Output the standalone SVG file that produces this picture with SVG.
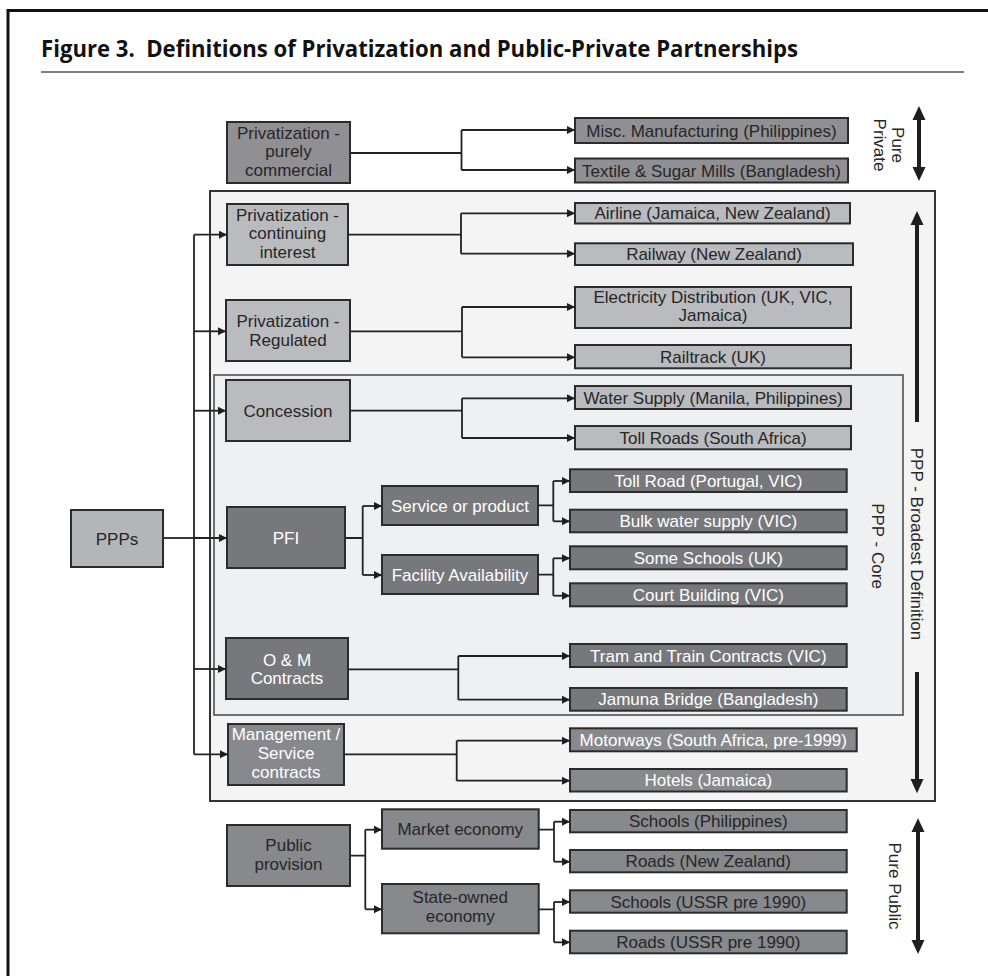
<svg xmlns="http://www.w3.org/2000/svg" width="988" height="976" viewBox="0 0 988 976">
<defs>
<style>
.t{font-family:"Liberation Sans",Arial,sans-serif;font-size:17px;text-anchor:middle;fill:#262626}
.w{fill:#ffffff}
.b{stroke:#2b2b2b;stroke-width:2}
.lt{fill:#babbbf}
.md{fill:#909094}
.dk{fill:#77787c}
.mg{fill:#88898d}
.c{fill:none;stroke:#222;stroke-width:1.8}
.ca{fill:none;stroke:#222;stroke-width:1.8;marker-end:url(#ah)}
.big{fill:#1e1e1e}
</style>
<marker id="ah" markerUnits="userSpaceOnUse" markerWidth="9" markerHeight="9" refX="8" refY="4" orient="auto">
<path d="M0,0 L8,4 L0,8 z" fill="#1e1e1e"/>
</marker>
</defs>
<rect width="988" height="976" fill="#ffffff"/>
<rect x="8" y="10.5" width="1000" height="1000" fill="none" stroke="#111" stroke-width="3"/>
<text x="41" y="57" xml:space="preserve" font-family="'Open Sans','Liberation Sans',sans-serif" font-weight="700" font-size="23.5" fill="#111" textLength="757" lengthAdjust="spacingAndGlyphs">Figure 3.  Definitions of Privatization and Public-Private Partnerships</text>
<line x1="41" y1="72" x2="964" y2="72" stroke="#555" stroke-width="1.5"/>

<g id="region-broadest">
<rect x="210" y="191" width="725" height="610" fill="#f4f4f4" stroke="#333" stroke-width="2"/>
<text class="t" transform="translate(911,544) rotate(90)">PPP - Broadest Definition</text>
</g>
<g id="region-core">
<rect x="214" y="375" width="689" height="340" fill="#eff0f2" stroke="#444" stroke-width="1.5"/>
<text class="t" transform="translate(872,546) rotate(90)">PPP - Core</text>
</g>

<g id="connectors">
<path class="c" d="M350,153 H461.5 M461.5,130 V170"/>
<path class="ca" d="M461.5,130 H575"/>
<path class="ca" d="M461.5,170 H575"/>

<path class="c" d="M163,538 H194" stroke-width="2.6"/>
<path class="c" d="M194,234.7 V754.3"/>
<path class="ca" d="M194,234.7 H227"/>
<path class="ca" d="M194,331.3 H226"/>
<path class="ca" d="M194,410.7 H226"/>
<path class="ca" d="M194,538 H227"/>
<path class="ca" d="M194,669 H226"/>
<path class="ca" d="M194,754.3 H228"/>

<path class="c" d="M348,234.7 H461 M461,213.3 V253.7"/>
<path class="ca" d="M461,213.3 H575"/>
<path class="ca" d="M461,253.7 H575"/>

<path class="c" d="M350,331.3 H462 M462,307 V357.3"/>
<path class="ca" d="M462,307 H575"/>
<path class="ca" d="M462,357.3 H575"/>

<path class="c" d="M350,410.7 H462 M462,398.3 V438"/>
<path class="ca" d="M462,398.3 H575"/>
<path class="ca" d="M462,438 H575"/>

<path class="c" d="M345,538 H362.7 M362.7,506 V575"/>
<path class="ca" d="M362.7,506 H382"/>
<path class="ca" d="M362.7,575 H382"/>

<path class="c" d="M538,505.3 H553.3 M553.3,481 V521.3"/>
<path class="ca" d="M553.3,481 H570"/>
<path class="ca" d="M553.3,521.3 H570"/>
<path class="c" d="M538,574.7 H553.3 M553.3,558.3 V595.7"/>
<path class="ca" d="M553.3,558.3 H570"/>
<path class="ca" d="M553.3,595.7 H570"/>

<path class="c" d="M348,669.3 H458.3 M458.3,656 V699.7"/>
<path class="ca" d="M458.3,656 H570"/>
<path class="ca" d="M458.3,699.7 H570"/>

<path class="c" d="M344,754.3 H456.7 M456.7,740.7 V780.7"/>
<path class="ca" d="M456.7,740.7 H570"/>
<path class="ca" d="M456.7,780.7 H570"/>

<path class="c" d="M350,855.7 H365.3 M365.3,829.7 V909.3"/>
<path class="ca" d="M365.3,829.7 H382"/>
<path class="ca" d="M365.3,909.3 H382"/>

<path class="c" d="M538.7,829.7 H554 M554,821.7 V861.7"/>
<path class="ca" d="M554,821.7 H570"/>
<path class="ca" d="M554,861.7 H570"/>
<path class="c" d="M538.7,909.3 H554 M554,902 V942.3"/>
<path class="ca" d="M554,902 H570"/>
<path class="ca" d="M554,942.3 H570"/>
</g>

<g id="scale-pure-private">
<polygon class="big" points="919,106 912.5,120 925.5,120"/>
<polygon class="big" points="919,181 912.5,167 925.5,167"/>
<rect class="big" x="917" y="118" width="4" height="51"/>
<text class="t" transform="translate(892,145) rotate(90)">Pure</text>
<text class="t" transform="translate(874,145) rotate(90)">Private</text>
</g>
<g id="scale-broadest">
<polygon class="big" points="917,211 910.5,225 923.5,225"/>
<rect class="big" x="915" y="223" width="4" height="199"/>
<rect class="big" x="915" y="672" width="4" height="109"/>
<polygon class="big" points="917,793.3 910.5,779 923.5,779"/>
</g>
<g id="scale-pure-public">
<polygon class="big" points="918,818.3 911.5,832 924.5,832"/>
<polygon class="big" points="918,954 911.5,940 924.5,940"/>
<rect class="big" x="916" y="830" width="4" height="112"/>
<text class="t" transform="translate(889,886) rotate(90)">Pure Public</text>
</g>

<g id="n-purely">
<rect class="b md" x="227" y="122" width="123" height="61"/>
<text class="t" x="288.5" y="139">Privatization -</text>
<text class="t" x="288.5" y="157">purely</text>
<text class="t" x="288.5" y="175.5">commercial</text>
</g>
<g id="n-misc"><rect class="b md" x="575" y="118" width="273" height="25"/><text class="t" x="711.5" y="136.5">Misc. Manufacturing (Philippines)</text></g>
<g id="n-textile"><rect class="b md" x="575" y="158.5" width="273" height="24"/><text class="t" x="711.5" y="176.5">Textile &amp; Sugar Mills (Bangladesh)</text></g>

<g id="n-continuing">
<rect class="b lt" x="227" y="204" width="121" height="61"/>
<text class="t" x="287.5" y="220.7">Privatization -</text>
<text class="t" x="287.5" y="239.3">continuing</text>
<text class="t" x="287.5" y="257.7">interest</text>
</g>
<g id="n-airline"><rect class="b lt" x="575" y="203" width="275" height="20.5"/><text class="t" x="712.5" y="219">Airline (Jamaica, New Zealand)</text></g>
<g id="n-railway"><rect class="b lt" x="575" y="243.3" width="278" height="21.7"/><text class="t" x="714" y="260">Railway (New Zealand)</text></g>

<g id="n-regulated">
<rect class="b lt" x="226" y="300" width="124" height="61"/>
<text class="t" x="288" y="326.7">Privatization -</text>
<text class="t" x="288" y="345.5">Regulated</text>
</g>
<g id="n-electricity"><rect class="b lt" x="575" y="287" width="276" height="41"/><text class="t" x="713" y="303.3">Electricity Distribution (UK, VIC,</text><text class="t" x="713" y="321">Jamaica)</text></g>
<g id="n-railtrack"><rect class="b lt" x="575" y="345" width="276" height="23.3"/><text class="t" x="713" y="362.5">Railtrack (UK)</text></g>

<g id="n-concession">
<rect class="b lt" x="226" y="380" width="124" height="61"/>
<text class="t" x="288" y="416.5">Concession</text>
</g>
<g id="n-water"><rect class="b lt" x="575" y="386" width="276" height="23"/><text class="t" x="713" y="403.5">Water Supply (Manila, Philippines)</text></g>
<g id="n-tollsa"><rect class="b lt" x="575" y="426" width="276" height="23.3"/><text class="t" x="713" y="443.5">Toll Roads (South Africa)</text></g>

<g id="n-ppps">
<rect class="b" fill="#b4b5b9" x="71" y="510" width="92" height="57"/>
<text class="t" x="117" y="544.5">PPPs</text>
</g>

<g id="n-pfi">
<rect class="b dk" x="227" y="507" width="118" height="61"/>
<text class="t w" x="286" y="544">PFI</text>
</g>
<g id="n-service"><rect class="b dk" x="382" y="486" width="156" height="39"/><text class="t w" x="460" y="511.5">Service or product</text></g>
<g id="n-facility"><rect class="b dk" x="382" y="555" width="156" height="39"/><text class="t w" x="460" y="580.5">Facility Availability</text></g>
<g id="n-tollpt"><rect class="b dk" x="570" y="469.3" width="276.7" height="22.7"/><text class="t w" x="708.3" y="486.7">Toll Road (Portugal, VIC)</text></g>
<g id="n-bulk"><rect class="b dk" x="570" y="509.7" width="276.7" height="22.6"/><text class="t w" x="708.3" y="527">Bulk water supply (VIC)</text></g>
<g id="n-someschools"><rect class="b dk" x="570" y="546.3" width="276.7" height="23"/><text class="t w" x="708.3" y="563.8">Some Schools (UK)</text></g>
<g id="n-court"><rect class="b dk" x="570" y="583.3" width="276.7" height="23"/><text class="t w" x="708.3" y="600.8">Court Building (VIC)</text></g>

<g id="n-om">
<rect class="b dk" x="226" y="638" width="122" height="61"/>
<text class="t w" x="287" y="665.7">O &amp; M</text>
<text class="t w" x="287" y="683.5">Contracts</text>
</g>
<g id="n-tram"><rect class="b dk" x="570" y="644" width="276.7" height="23"/><text class="t w" x="708.3" y="661.5">Tram and Train Contracts (VIC)</text></g>
<g id="n-jamuna"><rect class="b dk" x="570" y="688" width="276.7" height="22.7"/><text class="t w" x="708.3" y="705.3">Jamuna Bridge (Bangladesh)</text></g>

<g id="n-management">
<rect class="b mg" x="228" y="724" width="116" height="61"/>
<text class="t w" x="286" y="740">Management /</text>
<text class="t w" x="286" y="759">Service</text>
<text class="t w" x="286" y="777.5">contracts</text>
</g>
<g id="n-motorways"><rect class="b mg" x="570" y="728.3" width="286.7" height="23"/><text class="t w" x="713.3" y="745.8">Motorways (South Africa, pre-1999)</text></g>
<g id="n-hotels"><rect class="b mg" x="570" y="769" width="276.7" height="22.5"/><text class="t w" x="708.3" y="786.3">Hotels (Jamaica)</text></g>

<g id="n-public">
<rect class="b mg" x="227" y="825" width="123" height="61"/>
<text class="t" x="288.5" y="850.7">Public</text>
<text class="t" x="288.5" y="869.5">provision</text>
</g>
<g id="n-market"><rect class="b mg" x="382" y="809.3" width="156.7" height="39.4"/><text class="t" x="460.3" y="835">Market economy</text></g>
<g id="n-state">
<rect class="b mg" x="382" y="884" width="156.7" height="49.3"/>
<text class="t" x="460.3" y="903">State-owned</text>
<text class="t" x="460.3" y="922">economy</text>
</g>
<g id="n-schoolsph"><rect class="b mg" x="570" y="810" width="276.7" height="22.3"/><text class="t" x="708.3" y="827">Schools (Philippines)</text></g>
<g id="n-roadsnz"><rect class="b mg" x="570" y="850" width="276.7" height="22.3"/><text class="t" x="708.3" y="867">Roads (New Zealand)</text></g>
<g id="n-schoolsussr"><rect class="b mg" x="570" y="890.3" width="276.7" height="22.4"/><text class="t" x="708.3" y="907.5">Schools (USSR pre 1990)</text></g>
<g id="n-roadsussr"><rect class="b mg" x="570" y="930.7" width="276.7" height="22.6"/><text class="t" x="708.3" y="948">Roads (USSR pre 1990)</text></g>
</svg>
